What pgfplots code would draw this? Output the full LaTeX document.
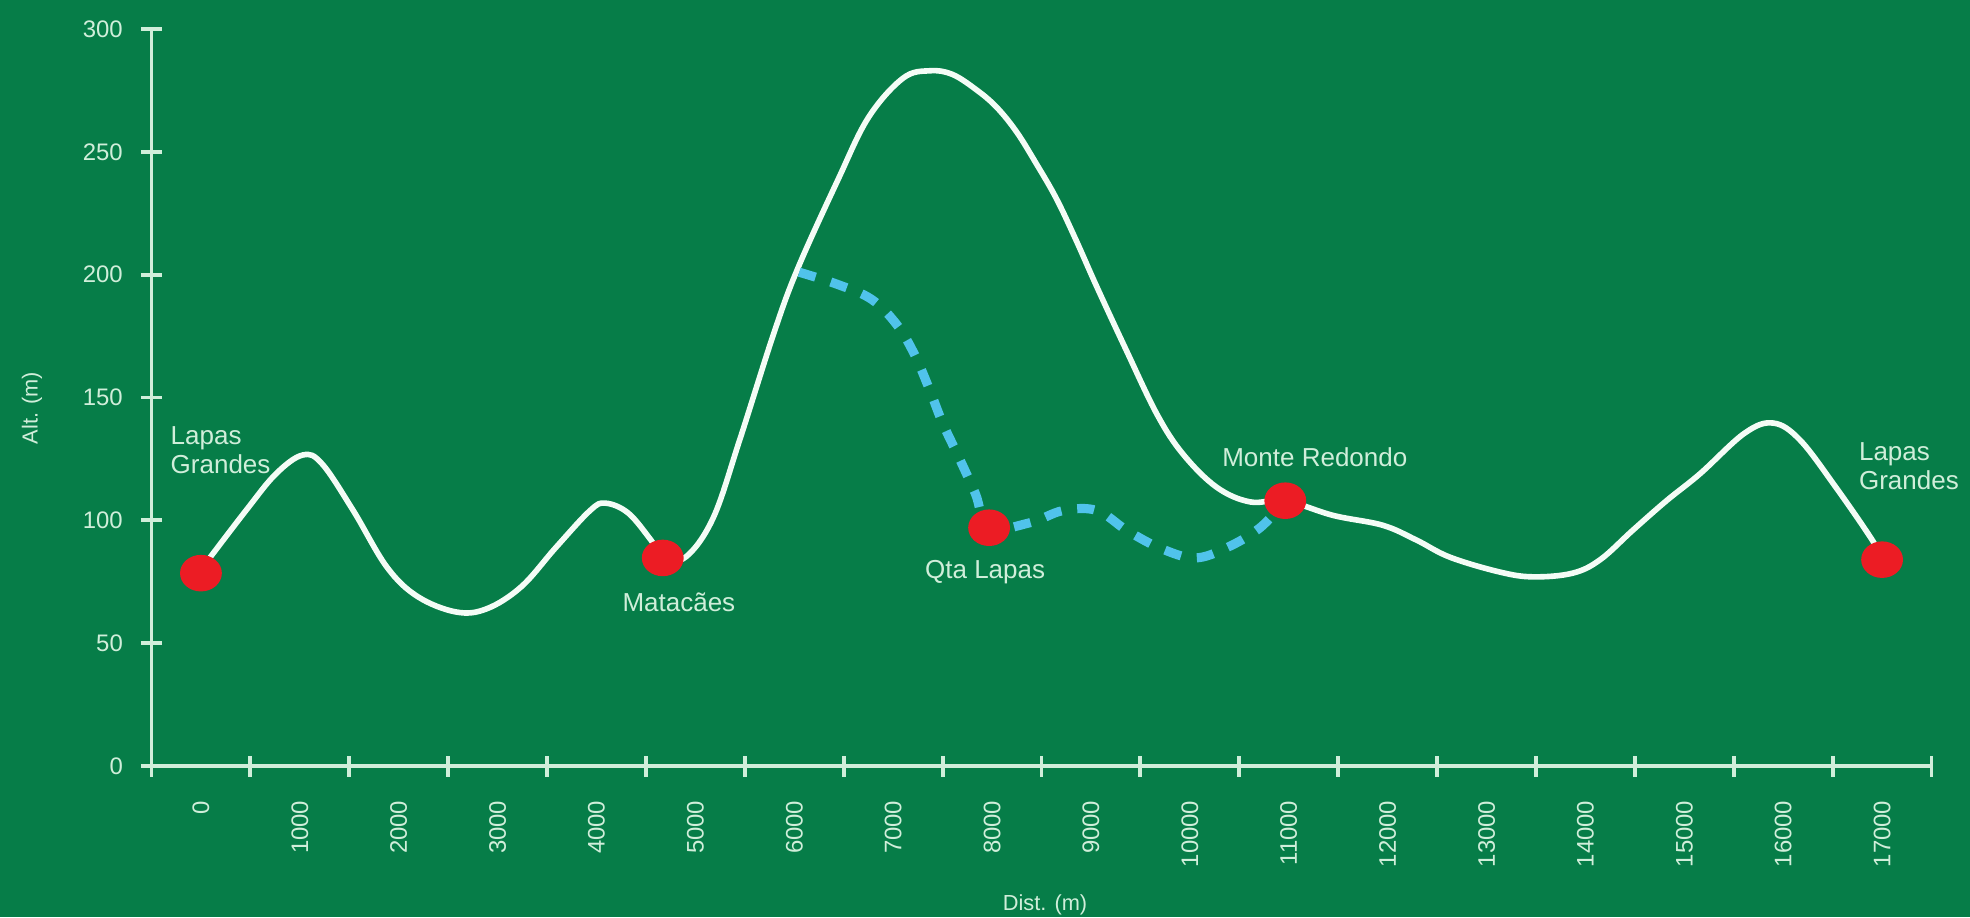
\documentclass[border=0pt]{standalone}
\usepackage{fontspec}
\setmainfont{Liberation Sans}
\usepackage{pgfplots}
\pgfplotsset{compat=1.18}
\definecolor{bg}{RGB}{6,125,72}
\definecolor{pale}{RGB}{208,238,218}
\definecolor{trail}{RGB}{244,252,246}
\definecolor{alt}{RGB}{80,195,235}
\definecolor{stop}{RGB}{236,28,36}

\begin{document}
\begin{tikzpicture}
\fill[bg] (0,0) rectangle (19.70,9.17);
\begin{axis}[
  at={(1.515cm,1.51cm)}, anchor=south west,
  scale only axis, width=17.80cm, height=7.37cm,
  xmin=-500, xmax=17500, ymin=0, ymax=300,
  axis lines*=left, clip=false,
  scaled x ticks=false, scaled y ticks=false,
  axis line style={pale, line width=1.1pt},
  tick style={pale, line width=1.1pt},
  tick align=center,
  major tick length=0pt, minor tick length=2.1mm,
  xtick={0,1000,...,17000}, minor xtick={-500,500,...,17500},
  xticklabels={0,1000,2000,3000,4000,5000,6000,7000,8000,9000,10000,11000,12000,13000,14000,15000,16000,17000},
  ytick={0,50,...,300}, minor ytick={0,50,...,300},
  yticklabels={0,50,100,150,200,250,300},
  xticklabel style={rotate=90, anchor=east, inner sep=0pt, text=pale, font=\fontsize{6.8}{7}\selectfont},
  yticklabel style={anchor=east, inner sep=0pt, text=pale, font=\fontsize{6.8}{7}\selectfont},
  xticklabel shift=3.4mm, yticklabel shift=2.8mm,
]
% main route
\addplot[trail, line width=1.6pt, smooth, tension=0.6] coordinates {
 (0,80) (455,104) (760,119) (1030,126.6) (1225,123) (1540,104) (1880,81)
 (2190,69) (2580,62.7) (2890,64) (3240,73) (3590,89) (3935,104) (4090,107)
 (4320,103) (4550,92) (4670,85) (4900,85) (5180,101) (5450,133)
 (5800,177) (6040,203) (6440,238.5) (6750,264) (7100,280) (7370,283)
 (7600,281.5) (7850,275) (8050,268) (8250,258) (8450,245) (8650,231)
 (8850,214) (9060,195) (9360,169) (9670,143) (9930,127)
 (10270,113.5) (10610,107.5) (10965,108) (11450,102) (11950,98) (12290,92)
 (12630,85) (13130,79) (13470,77) (13870,78.5) (14150,84) (14480,96)
 (14820,108) (15160,119) (15610,135.5) (15900,139.6) (16170,132.7)
 (16530,113.6) (16900,92) (17000,84)
};
% alternative route
\addplot[alt, line width=2.6pt, dash pattern=on 1.7mm off 1.6mm, smooth, tension=0.6] coordinates {
 (6050,201) (6440,196) (6780,190) (7030,180) (7210,168) (7370,153) (7500,139.6)
 (7660,126) (7830,111) (7970,97) (8380,99) (8720,104) (9060,104) (9360,96)
 (9700,88.7) (10050,84.7) (10380,89) (10710,97) (10965,108)
};
% stops
\addplot[stop, only marks, mark=*, mark size=5pt, mark options={fill=stop, draw=stop, xscale=1.15}] coordinates {
 (0,78.5) (4670,84.7) (7970,97) (10965,108) (17000,84)
};
\begin{scope}[every node/.style={text=pale, font=\fontsize{7.4}{8.2}\selectfont}]
\node[anchor=west, align=left, inner sep=0pt] at (axis cs:-313,128.6) {Lapas\\Grandes};
\node at (axis cs:4833,66.7) {Matacães};
\node at (axis cs:7930,79) {Qta Lapas};
\node at (axis cs:11264,125.8) {Monte Redondo};
\node[anchor=west, align=left, inner sep=0pt] at (axis cs:16760,122) {Lapas\\Grandes};
\end{scope}
\end{axis}
\node[rotate=90, text=pale, font=\fontsize{6.2}{7}\selectfont] at (0.32,5.09) {Alt. (m)};
\node[text=pale, font=\fontsize{6.2}{7}\selectfont] at (10.45,0.12) {Dist. (m)};
\pgfresetboundingbox
\path[use as bounding box] (0,0) rectangle (19.70,9.17);
\end{tikzpicture}
\end{document}
